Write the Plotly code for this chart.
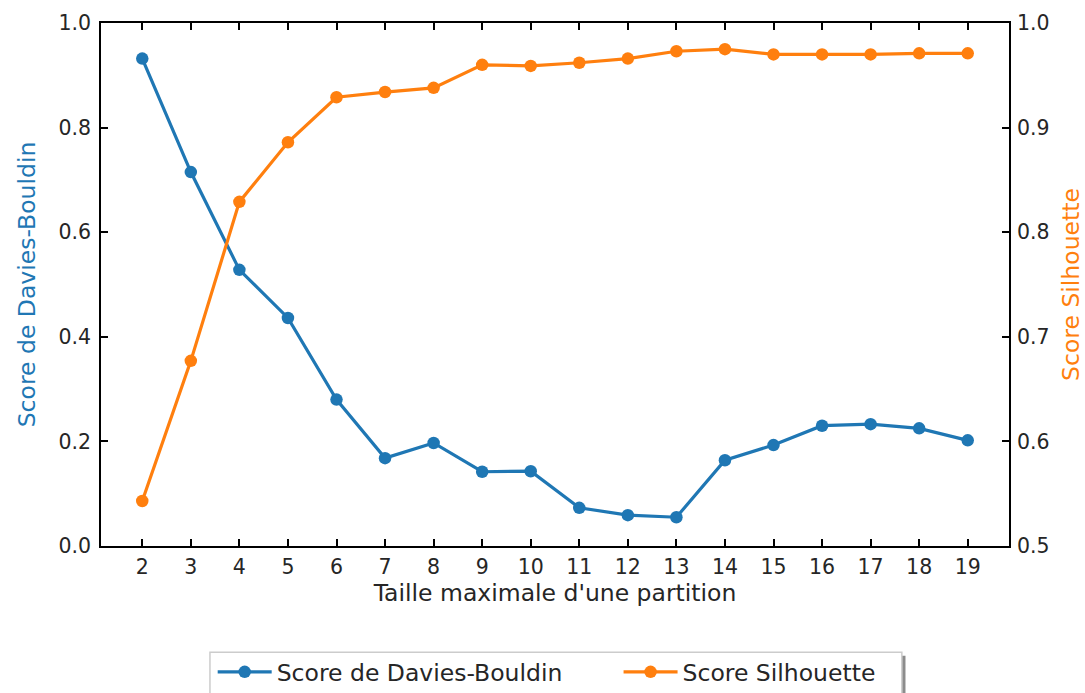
import plotly.graph_objects as go

# Maximum partition size tested
taille_max = list(range(2, 20))

# Davies-Bouldin score (lower is better)
davies_bouldin = [0.932, 0.715, 0.528, 0.436, 0.280, 0.168, 0.197, 0.142, 0.143,
                  0.073, 0.059, 0.055, 0.164, 0.193, 0.230, 0.233, 0.225, 0.202]

# Silhouette score (higher is better)
silhouette = [0.543, 0.677, 0.829, 0.886, 0.929, 0.934, 0.938, 0.960, 0.959,
              0.962, 0.966, 0.973, 0.975, 0.970, 0.970, 0.970, 0.971, 0.971]

left_ticks = [0.0, 0.2, 0.4, 0.6, 0.8, 1.0]
right_ticks = [0.5, 0.6, 0.7, 0.8, 0.9, 1.0]

BLUE = "#1f77b4"
ORANGE = "#ff7f0e"
FONT = "DejaVu Sans"
TXT = "#262626"

fig = go.Figure()
fig.add_trace(go.Scatter(
    x=taille_max, y=davies_bouldin, mode="lines+markers",
    name="Score de Davies-Bouldin", legend="legend",
    line=dict(color=BLUE, width=3.2), marker=dict(color=BLUE, size=12.5),
))
fig.add_trace(go.Scatter(
    x=taille_max, y=silhouette, mode="lines+markers",
    name="Score Silhouette", yaxis="y2", legend="legend2",
    line=dict(color=ORANGE, width=3.2), marker=dict(color=ORANGE, size=12.5),
))

axis_common = dict(
    showline=True, linecolor="#000000", linewidth=1.6,
    ticks="inside", ticklen=7, tickwidth=1.6, tickcolor="#000000",
    showgrid=False, zeroline=False,
    tickfont=dict(family=FONT, size=20.5, color=TXT),
)

legend_common = dict(
    orientation="h", yanchor="top", y=-0.199,
    borderwidth=0, bgcolor="rgba(0,0,0,0)",
    font=dict(family=FONT, size=23.5, color=TXT),
    itemwidth=54, visible=True,
)

# Legend frame (shadow + box) in paper coordinates
box_x0, box_x1 = 0.120, 0.882
box_y0, box_y1 = -0.290, -0.203

fig.update_layout(
    width=1085, height=693,
    margin=dict(l=101, r=76, t=23, b=147, autoexpand=False),
    paper_bgcolor="white", plot_bgcolor="white",
    font=dict(family=FONT, color=TXT),
    showlegend=True,
    xaxis=dict(
        **axis_common, mirror="ticks",
        range=[1.15, 19.85], tickmode="array", tickvals=taille_max,
        ticklabelstandoff=2,
        title=dict(text="Taille maximale d'une partition",
                   font=dict(family=FONT, size=23.5, color=TXT), standoff=6),
    ),
    yaxis=dict(
        **axis_common,
        range=[0, 1], tickmode="array", tickvals=left_ticks,
        ticktext=[f"{v:.1f}" for v in left_ticks],
        ticklabelstandoff=4,
        title=dict(text="Score de Davies-Bouldin",
                   font=dict(family=FONT, size=23.5, color=BLUE), standoff=16),
    ),
    yaxis2=dict(
        **axis_common, overlaying="y", side="right",
        range=[0.5, 1.0], tickmode="array", tickvals=right_ticks,
        ticktext=[f"{v:.1f}" for v in right_ticks],
        ticklabelstandoff=2,
        title=dict(text="Score Silhouette",
                   font=dict(family=FONT, size=23.5, color=ORANGE), standoff=17),
    ),
    legend=dict(**legend_common, x=0.123, xanchor="left"),
    legend2=dict(**legend_common, x=0.570, xanchor="left"),
    shapes=[
        dict(type="rect", xref="paper", yref="paper",
             x0=box_x0 + 0.004, x1=box_x1 + 0.004,
             y0=box_y0 - 0.007, y1=box_y1 - 0.007,
             line=dict(width=0), fillcolor="rgba(0,0,0,0.45)", layer="below"),
        dict(type="rect", xref="paper", yref="paper",
             x0=box_x0, x1=box_x1, y0=box_y0, y1=box_y1,
             line=dict(color="#cccccc", width=1.5), fillcolor="white", layer="below"),
    ],
)

fig.write_html("out.html")
